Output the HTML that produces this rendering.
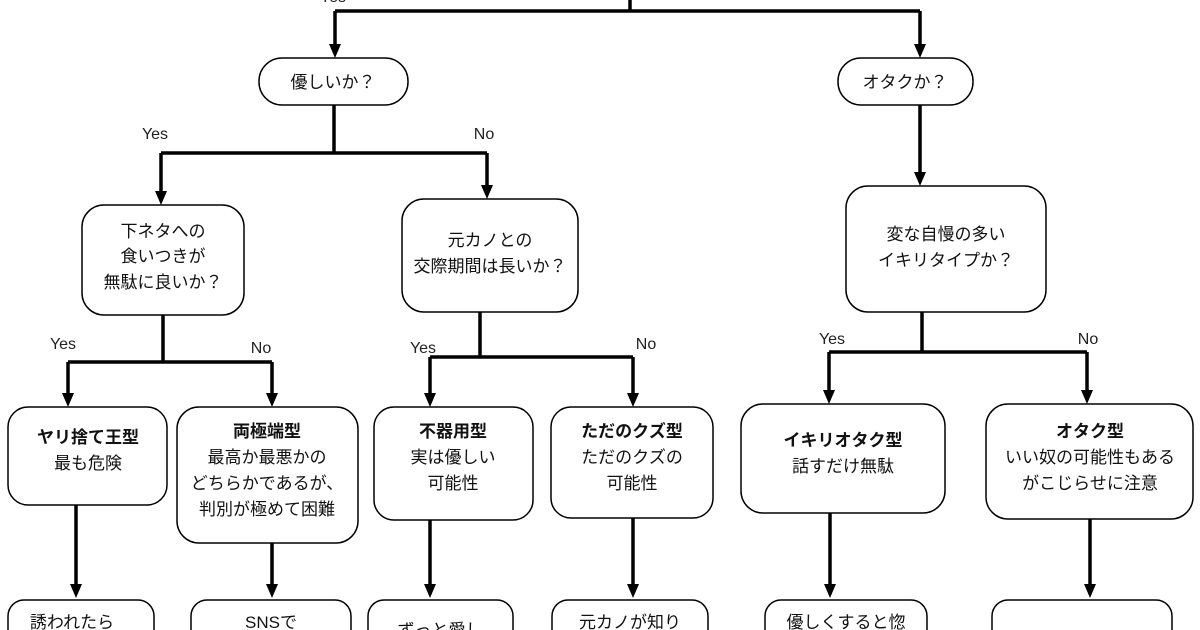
<!DOCTYPE html>
<html><head><meta charset="utf-8"><style>
html,body{margin:0;padding:0;background:#fff;width:1200px;height:630px;overflow:hidden}
svg{display:block}
text{font-family:"Liberation Sans","Noto Sans CJK JP",sans-serif;fill:#111;font-size:17px;text-anchor:middle}
.l{font-size:16px;fill:#222}
.b{font-weight:bold}
</style></head><body>
<svg width="1200" height="630" viewBox="0 0 1200 630">
<defs><path id="t" d="M-6,-14 L6,-14 L0,0z" fill="#000"/></defs>
<g stroke="#000" stroke-width="3.5" fill="none">
<path d="M630,0 V11 M335,11 H920"/>
<path d="M335,11 V46"/>
<path d="M920,11 V46"/>
<path d="M334,105 V153 M161,153 H487"/>
<path d="M161,153 V193"/>
<path d="M487,153 V187"/>
<path d="M920,105 V174"/>
<path d="M163,315 V362 M68,362 H272"/>
<path d="M68,362 V395"/>
<path d="M272,362 V395"/>
<path d="M480,312 V357 M430,357 H633"/>
<path d="M430,357 V395"/>
<path d="M633,357 V395"/>
<path d="M922,312 V352 M829,352 H1087"/>
<path d="M829,352 V392"/>
<path d="M1087,352 V392"/>
<path d="M76,505 V586"/>
<path d="M272,543 V586"/>
<path d="M430,520 V586"/>
<path d="M633,518 V586"/>
<path d="M830,513 V586"/>
<path d="M1090,519 V586"/>
</g>
<use href="#t" x="335" y="58"/><use href="#t" x="920" y="58"/>
<use href="#t" x="161" y="205"/><use href="#t" x="487" y="199"/><use href="#t" x="920" y="186"/>
<use href="#t" x="68" y="407"/><use href="#t" x="272" y="407"/><use href="#t" x="430" y="407"/><use href="#t" x="633" y="407"/>
<use href="#t" x="829" y="404"/><use href="#t" x="1087" y="404"/>
<use href="#t" x="76" y="598"/><use href="#t" x="272" y="598"/><use href="#t" x="430" y="598"/><use href="#t" x="633" y="598"/><use href="#t" x="830" y="598"/><use href="#t" x="1090" y="598"/>
<g stroke="#000" stroke-width="1.5" fill="#fff">
<rect x="259" y="58" width="149" height="47" rx="23"/>
<rect x="838" y="58" width="135" height="47" rx="23"/>
<rect x="82" y="205" width="162" height="110" rx="22"/>
<rect x="402" y="199" width="176" height="113" rx="22"/>
<rect x="846" y="186" width="200" height="126" rx="22"/>
<rect x="8" y="407" width="159" height="98" rx="20"/>
<rect x="177" y="407" width="181" height="136" rx="22"/>
<rect x="374" y="407" width="159" height="113" rx="20"/>
<rect x="551" y="407" width="162" height="111" rx="20"/>
<rect x="741" y="404" width="204" height="109" rx="22"/>
<rect x="986" y="404" width="207" height="115" rx="22"/>
<rect x="8" y="600" width="146" height="50" rx="16"/>
<rect x="191" y="600" width="160" height="50" rx="16"/>
<rect x="368" y="600" width="145" height="50" rx="16"/>
<rect x="552" y="600" width="156" height="50" rx="16"/>
<rect x="765" y="600" width="162" height="50" rx="16"/>
<rect x="992" y="600" width="180" height="50" rx="16"/>
</g>
<text class="l" x="333" y="2">Yes</text>
<text x="333" y="88">優しいか？</text>
<text x="905" y="88">オタクか？</text>
<text class="l" x="155" y="139">Yes</text>
<text class="l" x="484" y="139">No</text>
<text class="l" x="63" y="349">Yes</text>
<text class="l" x="261" y="353">No</text>
<text class="l" x="423" y="353">Yes</text>
<text class="l" x="646" y="349">No</text>
<text class="l" x="832" y="344">Yes</text>
<text class="l" x="1088" y="344">No</text>
<text x="163" y="237">下ネタへの</text>
<text x="163" y="262">食いつきが</text>
<text x="163" y="288">無駄に良いか？</text>
<text x="490" y="246">元カノとの</text>
<text x="490" y="272">交際期間は長いか？</text>
<text x="946" y="240">変な自慢の多い</text>
<text x="946" y="266">イキリタイプか？</text>
<text class="b" x="88" y="443">ヤリ捨て王型</text>
<text x="88" y="469">最も危険</text>
<text class="b" x="267" y="437">両極端型</text>
<text x="267" y="463">最高か最悪かの</text>
<text x="267" y="489">どちらかであるが、</text>
<text x="267" y="515">判別が極めて困難</text>
<text class="b" x="453" y="437">不器用型</text>
<text x="453" y="463">実は優しい</text>
<text x="453" y="489">可能性</text>
<text class="b" x="632" y="437">ただのクズ型</text>
<text x="632" y="463">ただのクズの</text>
<text x="632" y="489">可能性</text>
<text class="b" x="843" y="446">イキリオタク型</text>
<text x="843" y="472">話すだけ無駄</text>
<text class="b" x="1090" y="437">オタク型</text>
<text x="1090" y="463">いい奴の可能性もある</text>
<text x="1090" y="489">がこじらせに注意</text>
<text x="72" y="628">誘われたら</text>
<text x="271" y="628">SNSで</text>
<text x="440" y="636">ずっと愛し</text>
<text x="630" y="628">元カノが知り</text>
<text x="846" y="628">優しくすると惚</text>
</svg>
</body></html>
